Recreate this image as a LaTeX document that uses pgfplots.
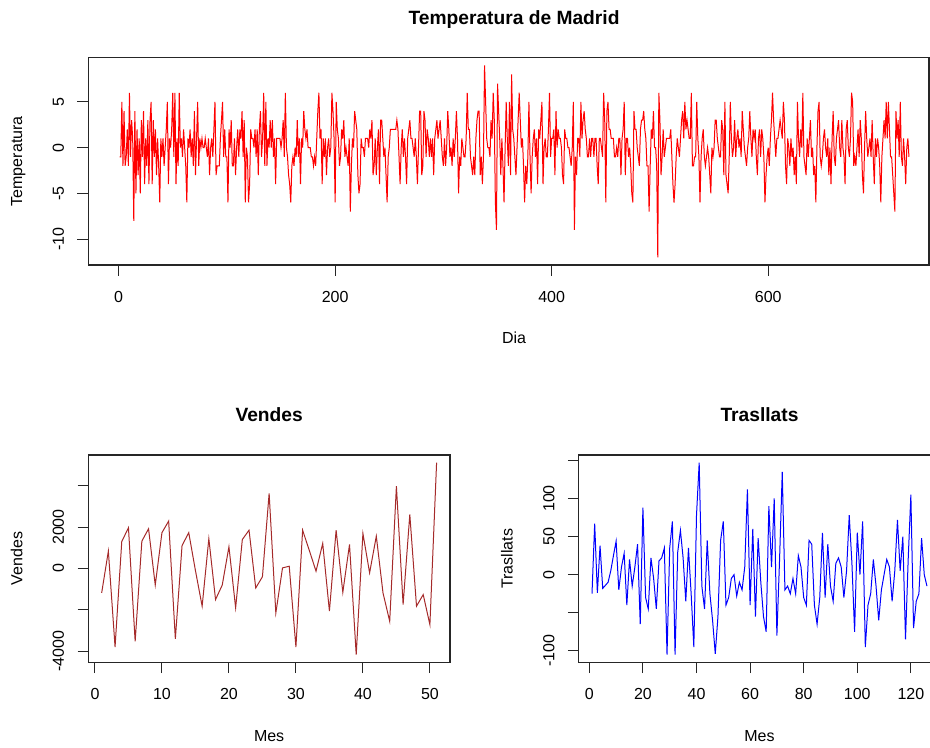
\documentclass[border=0pt]{standalone}
\usepackage{pgfplots}
\pgfplotsset{compat=1.18}
\usepackage{fontspec}
\setmainfont{Liberation Sans}
\definecolor{rbrown}{RGB}{165,42,42}
\pgfplotsset{
  rstyle/.style={
    scale only axis, anchor=south west,
    axis line style={black!85, line width=0.9pt},
    tick style={black!85, line width=0.75pt},
    tick align=outside, major tick length=8pt,
    xtick pos=bottom, ytick pos=left,
    every tick label/.append style={font=\fontsize{12}{14}\selectfont},
    xticklabel style={anchor=base, yshift=-20pt},
    yticklabel style={xshift=-10.2pt, rotate=90, anchor=base},
    every axis x label/.style={at={(axis description cs:0.5,0)}, yshift=-59pt, anchor=base, font=\fontsize{12}{14}\selectfont},
    every axis y label/.style={at={(axis description cs:0,0.5)}, xshift=-49.5pt, rotate=90, anchor=base, font=\fontsize{12}{14}\selectfont},
    every axis title/.style={at={(axis description cs:0.5,1)}, yshift=25pt, anchor=base, font=\bfseries\fontsize{14.4}{17}\selectfont},
  }
}
\begin{document}
\begin{tikzpicture}
\useasboundingbox (0,0) rectangle (697.5pt,560.25pt);
% ---------------- Top: Temperatura de Madrid ----------------
\begin{axis}[rstyle, at={(66.1pt,361.5pt)}, width=630.7pt, height=155.5pt,
  xmin=-28.16, xmax=748.6, ymin=-12.84, ymax=9.84,
  xtick={0,200,400,600}, xticklabels={0,200,400,600},
  ytick={-10,-5,0,5}, yticklabels={-10,-5,0,5},
  title style={xshift=4.1pt}, xlabel style={xshift=4.1pt},
  title={Temperatura de Madrid}, xlabel={Dia}, ylabel={Temperatura}]
\addplot[red, line width=0.75pt] table[x expr=\coordindex+1, y index=0, header=false, row sep=\\] {
-1\\ -1\\ 5\\ -2\\ 4\\ -2\\ -1\\ 2\\ -2\\ 6\\
-1\\ 3\\ 1\\ -8\\ 4\\ -5\\ 2\\ -3\\ 1\\ -5\\
3\\ -1\\ 4\\ -4\\ 1\\ -2\\ 3\\ -4\\ 3\\ 5\\
-4\\ 3\\ -1\\ 2\\ -3\\ 1\\ -2\\ -6\\ 1\\ -1\\
1\\ -2\\ 0\\ 2\\ 5\\ -4\\ 1\\ 0\\ 2\\ 6\\
-1\\ 6\\ -4\\ 1\\ -2\\ 6\\ 0\\ 1\\ -1\\ 2\\
0\\ -2\\ -6\\ 1\\ 0\\ 2\\ -1\\ 1\\ -2\\ 4\\
-3\\ 1\\ 5\\ -2\\ 1\\ 0\\ 1\\ 0\\ 0\\ 1\\
0\\ -1\\ 1\\ -3\\ 0\\ 1\\ -1\\ 2\\ 5\\ -3\\
-2\\ -2\\ -2\\ 1\\ 3\\ 5\\ -1\\ 2\\ -1\\ -1\\
-6\\ 2\\ 0\\ 3\\ -2\\ -2\\ 1\\ -3\\ 0\\ 2\\
-1\\ 2\\ 1\\ 4\\ -1\\ 3\\ -6\\ 0\\ -1\\ -6\\
-4\\ 2\\ 1\\ 1\\ 0\\ 2\\ -1\\ 2\\ -3\\ 2\\
4\\ -1\\ 1\\ 6\\ -2\\ 5\\ -2\\ 1\\ 0\\ 3\\
0\\ 3\\ -1\\ 1\\ -4\\ 1\\ 1\\ 1\\ 1\\ 0\\
1\\ 3\\ -1\\ 6\\ 0\\ -1\\ -3\\ -4\\ -6\\ -2\\
-1\\ -2\\ 0\\ -1\\ 3\\ -1\\ 1\\ -4\\ 1\\ 0\\
4\\ 2\\ 1\\ 2\\ 0\\ 0\\ 0\\ -1\\ -1\\ -2\\
-1\\ -2\\ 1\\ 4\\ 6\\ 1\\ 2\\ -4\\ 1\\ -1\\
1\\ -3\\ 0\\ 1\\ -1\\ 0\\ 6\\ 4\\ 1\\ -6\\
5\\ 2\\ 1\\ -2\\ -1\\ 2\\ 1\\ 3\\ -1\\ 0\\
-1\\ -2\\ 1\\ -7\\ -2\\ 1\\ 0\\ 4\\ 3\\ 2\\
-3\\ -5\\ -4\\ 1\\ 0\\ 0\\ -1\\ 1\\ 1\\ 1\\
0\\ 2\\ 1\\ 3\\ -3\\ -2\\ 1\\ -3\\ 0\\ 2\\
-4\\ 3\\ 3\\ 1\\ -1\\ 0\\ -3\\ -6\\ -1\\ 0\\
2\\ 2\\ 2\\ 2\\ 2\\ 2\\ 3\\ 2\\ -1\\ -4\\
0\\ 2\\ -1\\ 1\\ -1\\ -4\\ 1\\ 2\\ 3\\ 1\\
1\\ 0\\ -1\\ 1\\ -1\\ -4\\ 0\\ 4\\ 4\\ -3\\
-2\\ 4\\ 3\\ -1\\ 2\\ 1\\ -1\\ 1\\ -1\\ 1\\
-3\\ 1\\ 2\\ 3\\ 1\\ 2\\ 3\\ 1\\ -1\\ -2\\
1\\ -2\\ 0\\ 4\\ 2\\ -1\\ 0\\ -2\\ 1\\ -1\\
1\\ 4\\ 1\\ -5\\ -1\\ -2\\ 1\\ 0\\ -1\\ -1\\
1\\ 6\\ 2\\ 2\\ -1\\ -2\\ -3\\ -1\\ -3\\ 1\\
3\\ 4\\ 4\\ -3\\ -1\\ -4\\ -1\\ 9\\ 5\\ 1\\
0\\ 0\\ -1\\ 3\\ 1\\ 6\\ 3\\ -6\\ -9\\ 7\\
4\\ 1\\ -3\\ 1\\ -2\\ -6\\ 0\\ 5\\ 1\\ -2\\
5\\ -3\\ 8\\ 2\\ 1\\ -1\\ -3\\ 0\\ 3\\ 6\\
3\\ 0\\ 1\\ -2\\ -6\\ -2\\ -4\\ -1\\ 5\\ -1\\
-5\\ -1\\ 1\\ 2\\ -1\\ 1\\ -4\\ 2\\ 1\\ 3\\
5\\ -4\\ 0\\ 1\\ -1\\ -1\\ 2\\ 6\\ -1\\ 1\\
1\\ 2\\ -3\\ 4\\ 0\\ 2\\ 1\\ 1\\ 0\\ -3\\
-4\\ 2\\ 1\\ 1\\ 0\\ 0\\ -1\\ -2\\ 0\\ 5\\
-9\\ -1\\ -3\\ 1\\ 1\\ -1\\ 5\\ 1\\ 3\\ 4\\
2\\ 1\\ -1\\ -1\\ 1\\ -1\\ 1\\ 1\\ -1\\ 1\\
1\\ -2\\ -4\\ 1\\ 1\\ 0\\ -1\\ 6\\ 3\\ -6\\
4\\ 5\\ 2\\ 2\\ 1\\ 1\\ 1\\ -1\\ -1\\ 0\\
-1\\ 1\\ 1\\ -3\\ 1\\ 2\\ 5\\ -3\\ 1\\ 1\\
-1\\ 0\\ -2\\ -5\\ -6\\ 4\\ 2\\ 2\\ 0\\ -1\\
-2\\ 2\\ 3\\ 3\\ 4\\ 2\\ 1\\ -2\\ -2\\ -7\\
-2\\ 2\\ 1\\ 4\\ 0\\ 0\\ -2\\ -12\\ 6\\ 3\\
-3\\ -1\\ 2\\ -1\\ 0\\ 1\\ 1\\ 1\\ 1\\ 2\\
-1\\ -4\\ -6\\ -4\\ -1\\ 1\\ 0\\ -1\\ 1\\ 3\\
4\\ 1\\ 5\\ 2\\ 3\\ 2\\ 1\\ 1\\ 6\\ -2\\
-2\\ -1\\ -1\\ 5\\ 1\\ -1\\ -6\\ -1\\ 1\\ 2\\
-1\\ -2\\ -1\\ 0\\ -1\\ -3\\ -5\\ 0\\ -1\\ 0\\
3\\ 3\\ 1\\ 0\\ -1\\ -1\\ 3\\ 2\\ -3\\ 5\\
-3\\ -4\\ -5\\ -1\\ 5\\ 1\\ -1\\ 0\\ 3\\ -1\\
1\\ 2\\ 0\\ 1\\ -1\\ 4\\ 2\\ 0\\ -1\\ -2\\
0\\ 1\\ 4\\ 1\\ -1\\ 2\\ 1\\ 2\\ -1\\ -3\\
1\\ 2\\ -1\\ 2\\ 1\\ -1\\ -6\\ -3\\ -1\\ 0\\
-2\\ 1\\ 3\\ 6\\ 3\\ 1\\ -1\\ 1\\ 1\\ 2\\
3\\ 2\\ 1\\ 5\\ 3\\ -2\\ -4\\ 1\\ 0\\ -2\\
1\\ -1\\ 0\\ -3\\ -1\\ -4\\ 5\\ 1\\ -1\\ 2\\
0\\ 6\\ -1\\ -2\\ -3\\ 1\\ -1\\ 1\\ 3\\ -1\\
0\\ -3\\ -2\\ -6\\ 0\\ 4\\ 5\\ -1\\ -2\\ -1\\
1\\ 2\\ 0\\ -1\\ 1\\ -3\\ 0\\ -4\\ 1\\ 4\\
-1\\ -2\\ 1\\ 2\\ 3\\ 0\\ -1\\ 3\\ 0\\ -1\\
-4\\ 2\\ 3\\ 0\\ -1\\ 1\\ 6\\ 5\\ -2\\ -1\\
-2\\ 0\\ 2\\ -1\\ 3\\ 1\\ -3\\ -5\\ 0\\ 4\\
1\\ -1\\ 0\\ 1\\ -1\\ 3\\ -1\\ -4\\ 1\\ -1\\
1\\ 0\\ -2\\ -6\\ -1\\ 1\\ 3\\ 1\\ 5\\ 1\\
5\\ 2\\ -1\\ -1\\ -3\\ -5\\ -7\\ 4\\ 1\\ 3\\
-1\\ 5\\ -1\\ -2\\ 1\\ -1\\ -4\\ 0\\ 1\\ -1\\
};
\end{axis}
% ---------------- Bottom left: Vendes ----------------
\begin{axis}[rstyle, at={(66.2pt,63.5pt)}, width=271.3pt, height=155.5pt,
  xmin=-1, xmax=53, ymin=-4531, ymax=5481,
  xtick={0,10,20,30,40,50}, xticklabels={0,10,20,30,40,50},
  ytick={-4000,-2000,0,2000,4000}, yticklabels={-4000,{},0,2000,{}},
  title={Vendes}, xlabel={Mes}, ylabel={Vendes}]
\addplot[rbrown, line width=0.75pt] coordinates {
(1,-1180) (2,840) (3,-3790) (4,1300) (5,1970) (6,-3520) (7,1320) (8,1920) (9,-800) (10,1730)
(11,2290) (12,-3400) (13,1110) (14,1730) (15,-100) (16,-1820) (17,1440) (18,-1500) (19,-800) (20,1050)
(21,-1900) (22,1400) (23,1850) (24,-940) (25,-400) (26,3630) (27,-2150) (28,30) (29,110) (30,-3790)
(31,1850) (32,870) (33,-130) (34,1210) (35,-2060) (36,1850) (37,-1150) (38,1160) (39,-4160) (40,1690)
(41,-210) (42,1560) (43,-1180) (44,-2550) (45,3980) (46,-1740) (47,2610) (48,-1820) (49,-1260) (50,-2710)
(51,5110)
};
\end{axis}
% ---------------- Bottom right: Trasllats ----------------
\begin{axis}[rstyle, at={(433.95pt,63.5pt)}, width=271.3pt, height=155.5pt,
  xmin=-4, xmax=131, ymin=-115.08, ymax=157.08,
  xtick={0,20,40,60,80,100,120}, xticklabels={0,20,40,60,80,100,120},
  ytick={-100,-50,0,50,100,150}, yticklabels={-100,{},0,50,100,{}},
  title={Trasllats}, xlabel={Mes}, ylabel={Trasllats}]
\addplot[blue, line width=0.75pt] coordinates {
(1,-25) (2,67) (3,-24) (4,38) (5,-18) (6,-14) (7,-10) (8,5) (9,25) (10,44)
(11,-20) (12,10) (13,28) (14,-40) (15,20) (16,-15) (17,10) (18,40) (19,-65) (20,88)
(21,-30) (22,-45) (23,22) (24,-5) (25,-45) (26,18) (27,22) (28,35) (29,-105) (30,35)
(31,70) (32,-105) (33,30) (34,58) (35,22) (36,-35) (37,35) (38,-25) (39,-95) (40,78)
(41,147) (42,-15) (43,-45) (44,45) (45,-25) (46,-60) (47,-104) (48,-55) (49,45) (50,70)
(51,-40) (52,-30) (53,-5) (54,0) (55,-28) (56,-10) (57,-20) (58,10) (59,112) (60,-40)
(61,60) (62,-55) (63,48) (64,-10) (65,-55) (66,-75) (67,90) (68,10) (69,100) (70,-80)
(71,20) (72,135) (73,-20) (74,-15) (75,-25) (76,-5) (77,-25) (78,25) (79,10) (80,-30)
(81,-40) (82,45) (83,40) (84,-40) (85,-65) (86,-30) (87,55) (88,-30) (89,40) (90,-15)
(91,-35) (92,15) (93,22) (94,10) (95,-30) (96,5) (97,78) (98,15) (99,-75) (100,55)
(101,0) (102,70) (103,-95) (104,-40) (105,-25) (106,20) (107,-15) (108,-60) (109,-20) (110,0)
(111,20) (112,10) (113,-35) (114,5) (115,72) (116,5) (117,50) (118,-85) (119,20) (120,105)
(121,-70) (122,-35) (123,-25) (124,48) (125,0) (126,-15)
};
\end{axis}
\end{tikzpicture}
\end{document}
